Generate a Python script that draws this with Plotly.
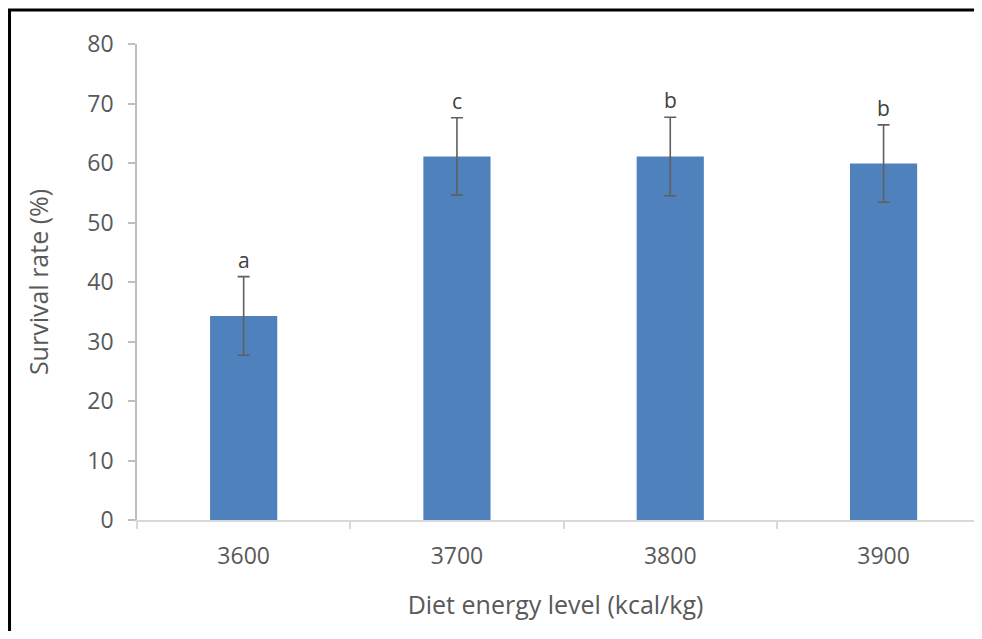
import plotly.graph_objects as go

categories = ["3600", "3700", "3800", "3900"]
survival = [34.3, 61.1, 61.1, 59.9]
errors = [6.6, 6.5, 6.6, 6.5]
letters = ["a", "c", "b", "b"]

FONT = "Open Sans"
TXT = "#595959"

fig = go.Figure()
fig.add_trace(go.Bar(
    x=categories, y=survival, width=0.315,
    marker=dict(color="#4f81bd", line=dict(width=0)),
    error_y=dict(type="data", array=errors, visible=True,
                 color="#5f5f5f", thickness=1.6, width=6),
))

for i, (v, e, t) in enumerate(zip(survival, errors, letters)):
    fig.add_annotation(x=i, y=v + e, text=t, showarrow=False,
                       xref="x", yref="y",
                       yanchor="bottom", yshift=1,
                       font=dict(family=FONT, size=21, color="#404040"))

# outer frame (only top and left edges visible in the crop)
fig.add_shape(type="rect", xref="paper", yref="paper",
              x0=-0.1523, x1=1.05, y0=-0.5, y1=1.0714,
              line=dict(color="black", width=3), layer="above")

fig.update_layout(
    width=966, height=623, autosize=False,
    margin=dict(l=129, r=0, t=36, b=111),
    paper_bgcolor="white", plot_bgcolor="white",
    showlegend=False,
    font=dict(family=FONT, color=TXT),
    xaxis=dict(
        range=[-0.5, 3.424], type="category",
        showline=True, linecolor="#d9d9d9", linewidth=1.5,
        ticks="outside", tickson="boundaries", ticklen=7, tickcolor="#d9d9d9",
        tickwidth=1.5, showgrid=False, zeroline=False,
        ticklabelstandoff=15,
        tickfont=dict(family=FONT, size=23, color=TXT),
        title=dict(text="Diet energy level (kcal/kg)", standoff=26,
                   font=dict(family=FONT, size=25, color=TXT)),
    ),
    yaxis=dict(
        range=[0, 80], dtick=10,
        showline=True, linecolor="#bfbfbf", linewidth=1.5,
        ticks="outside", ticklen=7, tickcolor="#bfbfbf", tickwidth=1.5,
        showgrid=False, zeroline=False,
        ticklabelstandoff=10,
        tickfont=dict(family=FONT, size=23, color=TXT),
        title=dict(text="Survival rate (%)", standoff=32,
                   font=dict(family=FONT, size=25, color=TXT)),
    ),
)

fig.write_html("out.html")
